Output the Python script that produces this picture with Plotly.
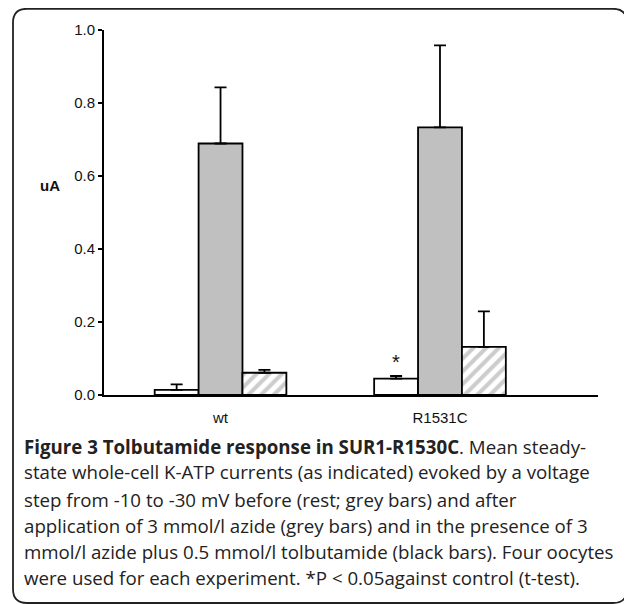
import plotly.graph_objects as go

categories = ["wt", "R1531C"]
rest_vals = [0.014, 0.045]
rest_err = [0.015, 0.007]
azide_vals = [0.689, 0.733]
azide_err = [0.154, 0.225]
tolb_vals = [0.061, 0.132]
tolb_err = [0.008, 0.097]
y_ticks = [0.0, 0.2, 0.4, 0.6, 0.8, 1.0]

caption_lines = [
    "<b>Figure 3 Tolbutamide response in SUR1-R1530C</b>. Mean steady-",
    "state whole-cell K-ATP currents (as indicated) evoked by a voltage",
    "step from -10 to -30 mV before (rest; grey bars) and after",
    "application of 3 mmol/l azide (grey bars) and in the presence of 3",
    "mmol/l azide plus 0.5 mmol/l tolbutamide (black bars). Four oocytes",
    "were used for each experiment. *P &lt; 0.05against control (t-test).",
]

# page has an 8px body margin; work in page pixels and convert
OFF = 8
W, H = 632 - OFF, 604 - OFF
L, R, T, B = 104 - OFF, 598 - OFF, 30 - OFF, 395 - OFF  # plot area in figure pixels


def px(xp):
    return (xp - OFF - L) / (R - L)


def py(yp):
    return (B - (yp - OFF)) / (B - T)


def err(vals):
    return dict(type="data", array=vals, arrayminus=[0] * len(vals), symmetric=False,
                color="black", thickness=1.8, width=6)


line = dict(color="black", width=1.8)
fig = go.Figure()
fig.add_trace(go.Bar(x=categories, y=rest_vals, error_y=err(rest_err),
                     marker=dict(color="white", line=line), name="rest"))
fig.add_trace(go.Bar(x=categories, y=azide_vals, error_y=err(azide_err),
                     marker=dict(color="#c0c0c0", line=line), name="azide"))
fig.add_trace(go.Bar(x=categories, y=tolb_vals, error_y=err(tolb_err),
                     marker=dict(color="white", line=line,
                                 pattern=dict(shape="/", fgcolor="#999999", bgcolor="white",
                                              size=9, solidity=0.45)),
                     name="tolbutamide"))

font_ax = "Liberation Sans, Arial, sans-serif"
fig.update_layout(
    width=W, height=H, barmode="group", bargap=0.4, bargroupgap=0,
    showlegend=False, plot_bgcolor="white", paper_bgcolor="white",
    margin=dict(l=L, r=W - R, t=T, b=H - B, pad=0),
    xaxis=dict(range=[-0.531, 1.72], showline=True, linecolor="black", linewidth=1.8,
               ticks="", showgrid=False, zeroline=False,
               tickfont=dict(family=font_ax, size=15, color="#111"),
               ticklabelstandoff=8),
    yaxis=dict(range=[0, 1.0], showline=True, linecolor="black", linewidth=1.8,
               ticks="outside", ticklen=4, tickwidth=1.8, tickcolor="black",
               tickvals=y_ticks, tickformat=".1f", showgrid=False, zeroline=False,
               tickfont=dict(family=font_ax, size=15, color="#111")),
)

# y-axis unit label
fig.add_annotation(text="<b>uA</b>", xref="paper", yref="paper", x=px(62), y=py(185),
                   xanchor="right", yanchor="middle", showarrow=False,
                   font=dict(family=font_ax, size=15, color="#111"))
# significance star
fig.add_annotation(text="*", x=categories[1], y=rest_vals[1] + rest_err[1], xref="x", yref="y",
                   xshift=-44, yshift=1, yanchor="bottom", showarrow=False,
                   font=dict(family=font_ax, size=20, color="#111"))

# caption
line_y = [446, 472, 499, 525, 551, 577]
for txt, yy in zip(caption_lines, line_y):
    fig.add_annotation(text=txt, xref="paper", yref="paper", x=px(22), y=py(yy),
                       xanchor="left", yanchor="middle", showarrow=False, align="left",
                       font=dict(family="Open Sans, sans-serif", size=18.7, color="#222"))

# rounded frame (page pixels)
x0, x1, y0, y1, r = px(13), px(627), py(8.8), py(603), 14
rx, ry = r / (R - L), r / (B - T)
path = (f"M {x0 + rx},{y0} L {x1 - rx},{y0} Q {x1},{y0} {x1},{y0 - ry} "
        f"L {x1},{y1 + ry} Q {x1},{y1} {x1 - rx},{y1} L {x0 + rx},{y1} "
        f"Q {x0},{y1} {x0},{y1 + ry} L {x0},{y0 - ry} Q {x0},{y0} {x0 + rx},{y0} Z")
fig.add_shape(type="path", path=path, xref="paper", yref="paper",
              line=dict(color="#222", width=1.8))

fig.write_html("out.html")
